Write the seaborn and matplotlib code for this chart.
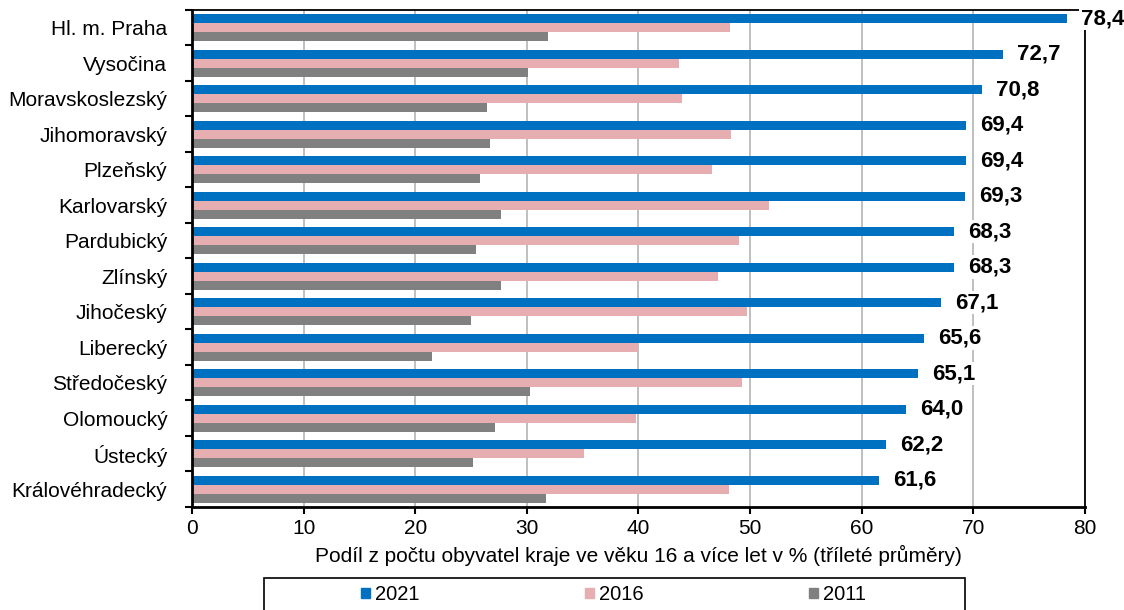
import matplotlib.pyplot as plt
import matplotlib.patches as mpatches
import numpy as np
import pandas as pd
import seaborn as sns

kraje = [
    "Hl. m. Praha", "Vysočina", "Moravskoslezský", "Jihomoravský", "Plzeňský",
    "Karlovarský", "Pardubický", "Zlínský", "Jihočeský", "Liberecký",
    "Středočeský", "Olomoucký", "Ústecký", "Královéhradecký",
]
roky = ["2021", "2016", "2011"]
podil_2021 = [78.4, 72.7, 70.8, 69.4, 69.4, 69.3, 68.3, 68.3, 67.1, 65.6, 65.1, 64.0, 62.2, 61.6]
podil_2016 = [48.2, 43.6, 43.9, 48.3, 46.6, 51.7, 49.0, 47.1, 49.7, 40.0, 49.3, 39.8, 35.1, 48.1]
podil_2011 = [31.9, 30.1, 26.4, 26.7, 25.8, 27.7, 25.4, 27.7, 25.0, 21.5, 30.3, 27.1, 25.2, 31.7]
barvy = ["#0070C0", "#E6AEB1", "#808080"]

df = pd.DataFrame({
    "kraj": kraje * 3,
    "rok": [r for r in roky for _ in kraje],
    "podil": podil_2021 + podil_2016 + podil_2011,
})

sns.set_style("white")
plt.rcParams["font.family"] = ["Liberation Sans", "DejaVu Sans"]
plt.rcParams.update({"text.color": "black", "axes.labelcolor": "black",
                     "xtick.color": "black", "ytick.color": "black"})

fig = plt.figure(figsize=(11.24, 6.10), dpi=100)
ax = fig.add_axes([0.171, 0.169, 0.794, 0.815])

sns.barplot(
    data=df, y="kraj", x="podil", hue="rok", order=kraje, hue_order=roky,
    palette=barvy, orient="h", width=0.76, saturation=1, ax=ax, legend=False,
    linewidth=0,
)

# hodnoty 2021
labels = [f"{v:.1f}".replace(".", ",") for v in podil_2021]
ax.bar_label(ax.containers[0], labels=labels, padding=10, fontsize=16,
             fontweight="bold", bbox=dict(facecolor="white", edgecolor="none", pad=1))

ax.set_xlim(0, 80)
ax.set_xticks(range(0, 81, 10))
ax.set_ylim(13.5, -0.5)
ax.grid(axis="x", color="#BFBFBF", linewidth=1.4)
ax.set_axisbelow(True)
for s in ax.spines.values():
    s.set_visible(True)
    s.set_color("black")
    s.set_linewidth(1.3)
ax.spines["bottom"].set_linewidth(2)
ax.spines["left"].set_linewidth(2)

ax.set_yticks(np.arange(-0.5, 14, 1), minor=True)
ax.tick_params(axis="y", which="major", length=0, labelsize=15, pad=18)
ax.tick_params(axis="y", which="minor", length=5, width=1.5, color="black", left=True)
ax.tick_params(axis="x", which="major", length=5, width=1.5, color="black",
               labelsize=15, bottom=True)

ax.set_ylabel("")
ax.set_xlabel("Podíl z počtu obyvatel kraje ve věku 16 a více let v % (tříleté průměry)",
              fontsize=15, labelpad=5)

handles = [mpatches.Patch(color=c, label=r) for c, r in zip(barvy, roky)]
fig.legend(handles=handles, loc="center", bbox_to_anchor=(0.546, 0.025), ncol=3,
           frameon=False, fontsize=14.5, handlelength=0.45, handleheight=0.45,
           handletextpad=0.25, columnspacing=8.2)
fig.patches.append(mpatches.Rectangle(
    (264 / 1124, -0.05), (965 - 264) / 1124, 0.05 + 32 / 610, transform=fig.transFigure,
    fill=False, edgecolor="black", linewidth=1.2))

fig.savefig("out.png", dpi=100)
